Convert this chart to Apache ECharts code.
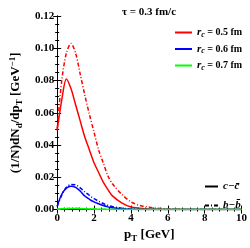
<!DOCTYPE html>
<html><head><meta charset="utf-8">
<script src="https://cdn.jsdelivr.net/npm/echarts@6/dist/echarts.min.js"></script>
<style>html,body{margin:0;padding:0;background:#fff}#c{width:250px;height:248px}</style>
</head><body><div id="c"></div>
<script>
// pT grid (GeV)
const pT = [0, 0.25, 0.5, 0.75, 1.0, 1.25, 1.5, 1.75, 2.0, 2.25, 2.5, 2.75, 3.0, 3.5, 4.0, 4.5, 5.0, 5.5, 6.0, 7.0, 8.0, 9.0, 10.0];
// r_c = 0.5 fm
const cc05 = [0.049, 0.068, 0.081, 0.075, 0.065, 0.055, 0.045, 0.037, 0.029, 0.023, 0.017, 0.0125, 0.0085, 0.0042, 0.0016, 0.0008, 0.0003, 0.0001, 0.0001, 0, 0, 0, 0];
const bb05 = [0.050, 0.080, 0.097, 0.103, 0.097, 0.084, 0.071, 0.059, 0.048, 0.037, 0.029, 0.021, 0.016, 0.0095, 0.0048, 0.0025, 0.0015, 0.0008, 0.0004, 0.0001, 0, 0, 0];
// r_c = 0.6 fm
const cc06 = [0.002, 0.0095, 0.0132, 0.0144, 0.0138, 0.0115, 0.0084, 0.0064, 0.0048, 0.0036, 0.0025, 0.0017, 0.0011, 0.0005, 0.0002, 0.0001, 0, 0, 0, 0, 0, 0, 0];
const bb06 = [0.002, 0.009, 0.0138, 0.0155, 0.0153, 0.0135, 0.011, 0.0088, 0.0068, 0.0052, 0.0038, 0.0027, 0.0019, 0.0009, 0.0004, 0.0002, 0.0001, 0, 0, 0, 0, 0, 0];
// r_c = 0.7 fm
const cc07 = [0.0002, 0.0005, 0.0006, 0.0007, 0.0007, 0.0006, 0.0005, 0.0004, 0.0003, 0.0002, 0.0002, 0.0001, 0.0001, 0, 0, 0, 0, 0, 0, 0, 0, 0, 0];
const bb07 = [0.0002, 0.0006, 0.0007, 0.0008, 0.0008, 0.0007, 0.0006, 0.0005, 0.0004, 0.0003, 0.0002, 0.0002, 0.0001, 0, 0, 0, 0, 0, 0, 0, 0, 0, 0];
const xTicks = [0, 2, 4, 6, 8, 10];
const yTicks = [0.00, 0.02, 0.04, 0.06, 0.08, 0.10, 0.12];

const F = 'Liberation Serif';
const pair = ys => pT.map((x, i) => [x, ys[i]]);
const DD = [4, 2, 1, 2];
const mk = (name, ys, color, dash) => ({
  name, type: 'line', data: pair(ys), symbol: 'none', smooth: 0.3, z: 3,
  lineStyle: { color, width: 1.5, type: dash ? DD : 'solid' }, itemStyle: { color }
});
const rich = {
  n: { fontFamily: F, fontWeight: 'bold', fontSize: 13, lineHeight: 16, color: '#000' },
  s: { fontFamily: F, fontWeight: 'bold', fontSize: 9, lineHeight: 9, verticalAlign: 'bottom', color: '#000' },
  u: { fontFamily: F, fontWeight: 'bold', fontSize: 9, lineHeight: 9, verticalAlign: 'top', color: '#000' }
};
const lrich = {
  i: { fontFamily: F, fontStyle: 'italic', fontWeight: 'bold', fontSize: 11, lineHeight: 12, color: '#000' },
  s: { fontFamily: F, fontStyle: 'italic', fontWeight: 'bold', fontSize: 8, lineHeight: 8, verticalAlign: 'bottom', color: '#000' },
  b: { fontFamily: F, fontWeight: 'bold', fontSize: 10, lineHeight: 12, color: '#000' }
};
const names = ['r05', 'r06', 'r07'];
const labels = { r05: '0.5', r06: '0.6', r07: '0.7' };
const axisCommon = {
  type: 'value', axisLine: { show: true, lineStyle: { color: '#000', width: 1 } },
  splitLine: { show: false },
  axisTick: { show: true, inside: true, length: 4, lineStyle: { color: '#000' } },
  minorTick: { show: true, length: 2, lineStyle: { color: '#000' } }
};
const chart = echarts.init(document.getElementById('c'), null, { renderer: 'canvas' });
chart.setOption({
  animation: false,
  backgroundColor: '#fff',
  title: { text: 'τ = 0.3 fm/c', left: 144, top: 2, textAlign: 'center',
    textStyle: { fontFamily: F, fontWeight: 'bold', fontSize: 11, color: '#000' } },
  grid: { left: 46, right: 8, top: 16, bottom: 35, containLabel: false },
  xAxis: [
    Object.assign({}, axisCommon, { min: 0, max: 10, interval: 2, position: 'bottom',
      minorTick: Object.assign({}, axisCommon.minorTick, { splitNumber: 5 }),
      axisLabel: { fontFamily: F, fontWeight: 'bold', fontSize: 11, color: '#000', margin: 3,
        formatter: v => xTicks.includes(v) ? String(v) : '' },
      name: '{n|p}{s|T}{n| [GeV]}', nameLocation: 'middle', nameGap: 16,
      nameTextStyle: { rich } }),
    Object.assign({}, axisCommon, { min: 0, max: 10, interval: 2, position: 'top',
      minorTick: Object.assign({}, axisCommon.minorTick, { splitNumber: 5 }),
      axisLabel: { show: false } })
  ],
  yAxis: [
    Object.assign({}, axisCommon, { min: 0, max: 0.12, interval: 0.02, position: 'left',
      minorTick: Object.assign({}, axisCommon.minorTick, { splitNumber: 4 }),
      axisLabel: { fontFamily: F, fontWeight: 'bold', fontSize: 11, color: '#000', margin: 3,
        formatter: v => { const t = yTicks.find(k => Math.abs(k - v) < 1e-9); return t === undefined ? '' : t.toFixed(2); } },
      name: '{n|(1/N)dN}{s|d}{n|/dp}{s|T}{n| [GeV}{u|−1}{n|]}', nameLocation: 'middle', nameRotate: 90, nameGap: 27,
      nameTextStyle: { rich } }),
    Object.assign({}, axisCommon, { min: 0, max: 0.12, interval: 0.02, position: 'right',
      minorTick: Object.assign({}, axisCommon.minorTick, { splitNumber: 4 }),
      axisLabel: { show: false } })
  ],
  legend: [
    { data: names, orient: 'vertical', left: 169, top: 22,
      itemWidth: 17, itemHeight: 12, itemGap: 5, itemStyle: { opacity: 0 },
      textStyle: { rich: lrich }, selectedMode: false,
      formatter: n => '{i|r}{s|c}{b| = ' + labels[n] + ' fm}' },
    { data: ['cc', 'bb'], orient: 'vertical', left: 199, top: 176,
      itemWidth: 13, itemHeight: 12, itemGap: 8, itemStyle: { opacity: 0 },
      textStyle: { rich: lrich }, selectedMode: false,
      formatter: n => n === 'cc' ? '{i|c−c\u0304}' : '{i|b−b\u0304}' }
  ],
  series: [
    mk('r05', cc05, '#ff0000', false),
    mk('bb05x', bb05, '#ff0000', true),
    mk('r06', cc06, '#0000ff', false),
    mk('bb06x', bb06, '#0000ff', true),
    mk('r07', cc07, '#00ff00', false),
    mk('bb07x', bb07, '#00ff00', true),
    { name: 'cc', type: 'line', data: [], symbol: 'none', lineStyle: { color: '#000', width: 1.5, type: 'solid' }, itemStyle: { color: '#000' } },
    { name: 'bb', type: 'line', data: [], symbol: 'none', lineStyle: { color: '#000', width: 1.5, type: DD }, itemStyle: { color: '#000' } }
  ]
});
</script></body></html>
